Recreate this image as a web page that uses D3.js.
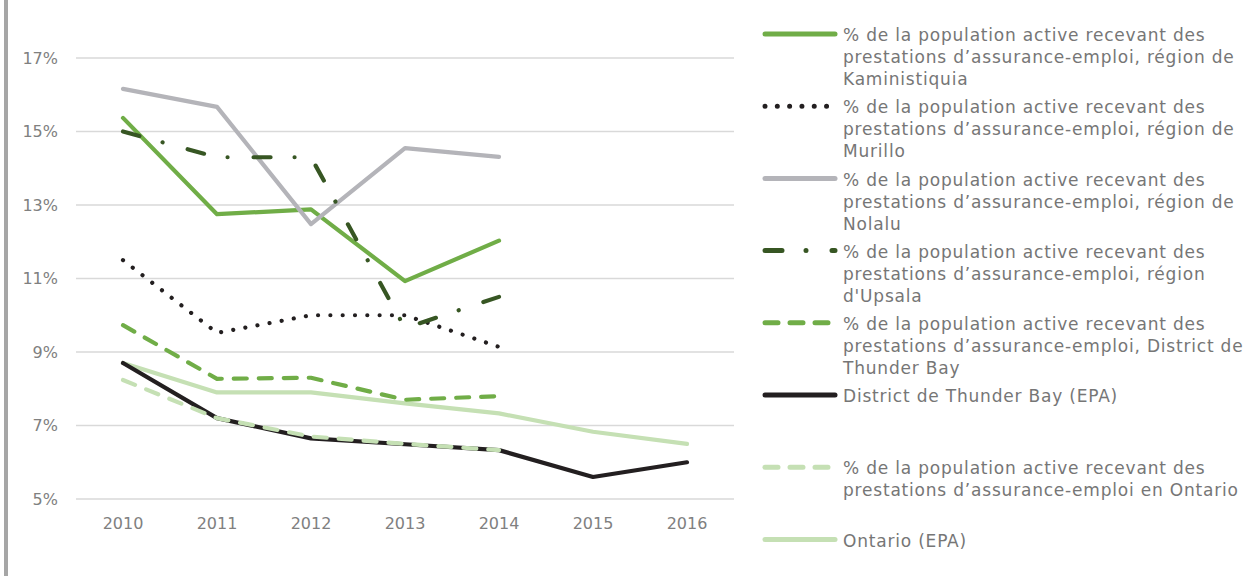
<!DOCTYPE html>
<html>
<head>
<meta charset="utf-8">
<script src="https://cdn.jsdelivr.net/npm/d3@7"></script>
<style>
body { margin: 0; background: #fff; }
svg { font-family: "DejaVu Sans", sans-serif; }
</style>
</head>
<body>
<div class="chart"></div>
<script>
// data
var years = ["2010", "2011", "2012", "2013", "2014", "2015", "2016"];
var yTicks = [5, 7, 9, 11, 13, 15, 17];

var kaministiquia = [15.37, 12.75, 12.88, 10.93, 12.03];
var murillo = [11.5, 9.52, 10.0, 10.0, 9.14];
var nolalu = [16.16, 15.67, 12.48, 14.55, 14.31];
var upsala = [15.0, 14.3, 14.3, 9.65, 10.5];
var districtAE = [9.73, 8.27, 8.3, 7.7, 7.8];
var districtEPA = [8.7, 7.2, 6.65, 6.49, 6.33, 5.6, 6.0];
var ontarioAE = [8.24, 7.2, 6.7, 6.5, 6.33];
var ontarioEPA = [8.7, 7.9, 7.9, 7.6, 7.33, 6.83, 6.5];

var labels = [
  ["% de la population active recevant des", "prestations d\u2019assurance-emploi, r\u00e9gion de", "Kaministiquia"],
  ["% de la population active recevant des", "prestations d\u2019assurance-emploi, r\u00e9gion de", "Murillo"],
  ["% de la population active recevant des", "prestations d\u2019assurance-emploi, r\u00e9gion de", "Nolalu"],
  ["% de la population active recevant des", "prestations d\u2019assurance-emploi, r\u00e9gion", "d'Upsala"],
  ["% de la population active recevant des", "prestations d\u2019assurance-emploi, District de", "Thunder Bay"],
  ["District de Thunder Bay (EPA)"],
  ["% de la population active recevant des", "prestations d\u2019assurance-emploi en Ontario"],
  ["Ontario (EPA)"]
];

// styles for each series, same order as labels
var series = [
  {values: kaministiquia, color: "#70ad47", dash: null},
  {values: murillo, color: "#231f20", dash: "0.01 12.3"},
  {values: nolalu, color: "#b4b4b9", dash: null},
  {values: upsala, color: "#375623", dash: "17 24 0.01 26"},
  {values: districtAE, color: "#70ad47", dash: "13 12"},
  {values: districtEPA, color: "#231f20", dash: null},
  {values: ontarioAE, color: "#c5e0b4", dash: "13 12"},
  {values: ontarioEPA, color: "#c5e0b4", dash: null}
];
// drawing order (back to front)
var drawOrder = [7, 5, 6, 4, 1, 0, 2, 3];

var W = 1253, H = 576;
var svg = d3.select(".chart").append("svg")
  .attr("width", W).attr("height", H);

// chart border on the left
svg.append("rect")
  .attr("x", 4).attr("y", 0).attr("width", 4).attr("height", H)
  .attr("fill", "#a6a6a6");

var x = d3.scaleBand().domain(years).range([76, 734]);
var y = d3.scaleLinear().domain([5, 17]).range([499, 58]);

// gridlines
svg.append("g").selectAll("line")
  .data(yTicks).enter().append("line")
  .attr("x1", 76).attr("x2", 734)
  .attr("y1", function(d){ return y(d); })
  .attr("y2", function(d){ return y(d); })
  .attr("stroke", "#d9d9d9").attr("stroke-width", 1.5);

var yAxis = d3.axisLeft(y).tickValues(yTicks).tickSize(0).tickPadding(18)
  .tickFormat(function(d){ return d + "%"; });
var gy = svg.append("g").attr("transform", "translate(76,0)").call(yAxis);
gy.select(".domain").remove();
gy.selectAll("text").attr("fill", "#808080").style("font-size", "16px")
  .style("font-family", "DejaVu Sans");

var xAxis = d3.axisBottom(x).tickSize(0).tickPadding(19);
var gx = svg.append("g").attr("transform", "translate(0,499)").call(xAxis);
gx.select(".domain").remove();
gx.selectAll("text").attr("fill", "#808080").style("font-size", "16px")
  .style("font-family", "DejaVu Sans");

var line = d3.line()
  .x(function(d, i){ return x(years[i]) + x.bandwidth() / 2; })
  .y(function(d){ return y(d); });

drawOrder.forEach(function(k){
  var s = series[k];
  svg.append("path")
    .datum(s.values)
    .attr("d", line)
    .attr("fill", "none")
    .attr("stroke", s.color)
    .attr("stroke-width", 4.2)
    .attr("stroke-linecap", "round")
    .attr("stroke-linejoin", "round")
    .attr("stroke-dasharray", s.dash);
});

// legend
var lg = svg.append("g");
series.forEach(function(s, i){
  var cy = 34 + i * 72.2;
  lg.append("line")
    .attr("x1", 765).attr("x2", 835)
    .attr("y1", cy).attr("y2", cy)
    .attr("stroke", s.color)
    .attr("stroke-width", 5)
    .attr("stroke-linecap", "round")
    .attr("stroke-dasharray", s.dash);
  var t = lg.append("text")
    .attr("x", 843).attr("y", cy)
    .attr("fill", "#767676")
    .style("font-size", "17px")
    .style("letter-spacing", "0.8px");
  labels[i].forEach(function(l, j){
    t.append("tspan")
      .attr("x", 843)
      .attr("y", cy + 1 + j * 22)
      .attr("dy", "0.36em")
      .text(l);
  });
});
</script>
</body>
</html>
